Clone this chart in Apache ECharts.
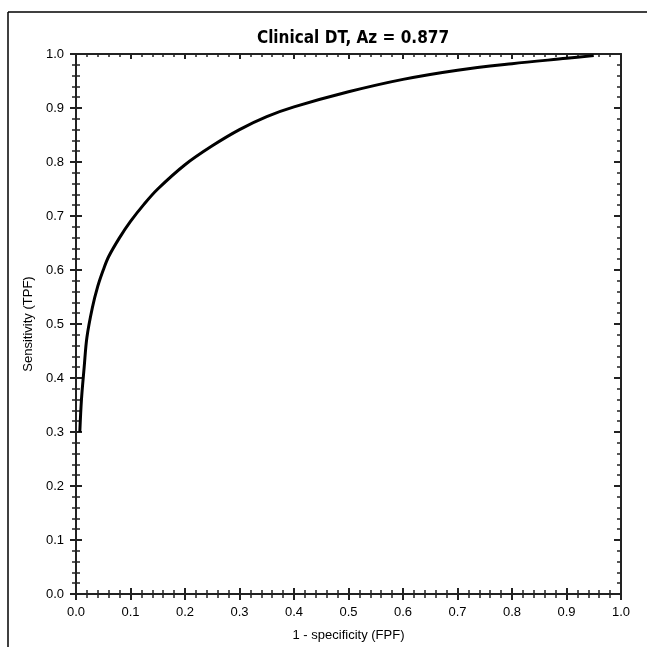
<!DOCTYPE html>
<html>
<head>
<meta charset="utf-8">
<script src="https://cdn.jsdelivr.net/npm/echarts@6/dist/echarts.min.js"></script>
<style>html,body{margin:0;padding:0;background:#fff}#c{width:647px;height:647px}</style>
</head>
<body>
<div id="c"></div>
<script>
var titleText = 'Clinical DT, Az = 0.877';
var xName = '1 - specificity (FPF)';
var yName = 'Sensitivity (TPF)';
var fpf = [0.007, 0.01, 0.015, 0.02, 0.03, 0.04, 0.05, 0.06, 0.08, 0.1, 0.125, 0.15, 0.2, 0.25, 0.3, 0.35, 0.4, 0.5, 0.6, 0.7, 0.8, 0.9, 0.95];
var tpf = [0.30, 0.36, 0.42, 0.475, 0.53, 0.57, 0.60, 0.625, 0.66, 0.69, 0.722, 0.75, 0.795, 0.83, 0.86, 0.884, 0.902, 0.93, 0.953, 0.97, 0.982, 0.992, 0.997];
var tickLabels = ['0.0','0.1','0.2','0.3','0.4','0.5','0.6','0.7','0.8','0.9','1.0'];

var chart = echarts.init(document.getElementById('c'), null, {renderer: 'canvas'});
var font = 'Liberation Sans, Arial, sans-serif';
var lineCol = '#222';
function fmt(v) { return tickLabels[Math.round(v * 10)]; }

function axis(pos, opts) {
  var base = {
    type: 'value', min: 0, max: 1, interval: 0.1, position: pos,
    axisLine: {show: true, onZero: false, lineStyle: {color: lineCol, width: 2}},
    splitLine: {show: false},
    axisLabel: {show: false},
    axisTick: {show: true, inside: true, length: 6, lineStyle: {color: lineCol, width: 2}},
    minorTick: {show: true, splitNumber: 5, length: 4, lineStyle: {color: lineCol, width: 1.5}}
  };
  return Object.assign(base, opts || {});
}

var option = {
  animation: false,
  backgroundColor: '#fff',
  title: {
    text: titleText, left: 348, top: 25, textAlign: 'center',
    textStyle: {fontFamily: '"Liberation Sans Narrow", "DejaVu Sans Condensed", "Liberation Sans", Arial', fontWeight: 'bold', fontSize: 17, color: '#000'}
  },
  grid: {left: 76, top: 54, right: 26, bottom: 53, containLabel: false},
  xAxis: [
    axis('bottom', {
      axisTick: {show: true, inside: false, length: 6, lineStyle: {color: lineCol, width: 2}},
      axisLabel: {show: true, formatter: fmt, margin: 12, fontFamily: font, fontSize: 13, color: '#000'},
      name: xName, nameLocation: 'middle', nameGap: 35,
      nameTextStyle: {fontFamily: font, fontSize: 13, color: '#000'}
    }),
    axis('bottom'),
    axis('top', {axisTick: {show: true, inside: true, length: 5, lineStyle: {color: lineCol, width: 2}}, minorTick: {show: true, splitNumber: 5, length: 3, lineStyle: {color: lineCol, width: 1.5}}})
  ],
  yAxis: [
    axis('left', {
      axisTick: {show: true, inside: false, length: 6, lineStyle: {color: lineCol, width: 2}},
      axisLabel: {show: true, formatter: fmt, margin: 12, fontFamily: font, fontSize: 13, color: '#000'},
      name: yName, nameLocation: 'middle', nameGap: 41, nameRotate: 90,
      nameTextStyle: {fontFamily: font, fontSize: 13, color: '#000'}
    }),
    axis('left'),
    axis('right', {axisTick: {show: true, inside: true, length: 7, lineStyle: {color: lineCol, width: 2}}, minorTick: {show: true, splitNumber: 5, length: 4, lineStyle: {color: lineCol, width: 1.5}}})
  ],
  series: [{
    type: 'line', xAxisIndex: 0, yAxisIndex: 0,
    data: fpf.map(function (v, i) { return [v, tpf[i]]; }),
    smooth: 0.35, showSymbol: false, symbol: 'none',
    lineStyle: {color: '#000', width: 3}
  }],
  graphic: [
    {type: 'line', shape: {x1: 8, y1: 12, x2: 647, y2: 12}, style: {stroke: '#000', lineWidth: 1.5}},
    {type: 'line', shape: {x1: 8, y1: 12, x2: 8, y2: 647}, style: {stroke: '#000', lineWidth: 1.5}}
  ]
};
chart.setOption(option);
</script>
</body>
</html>
